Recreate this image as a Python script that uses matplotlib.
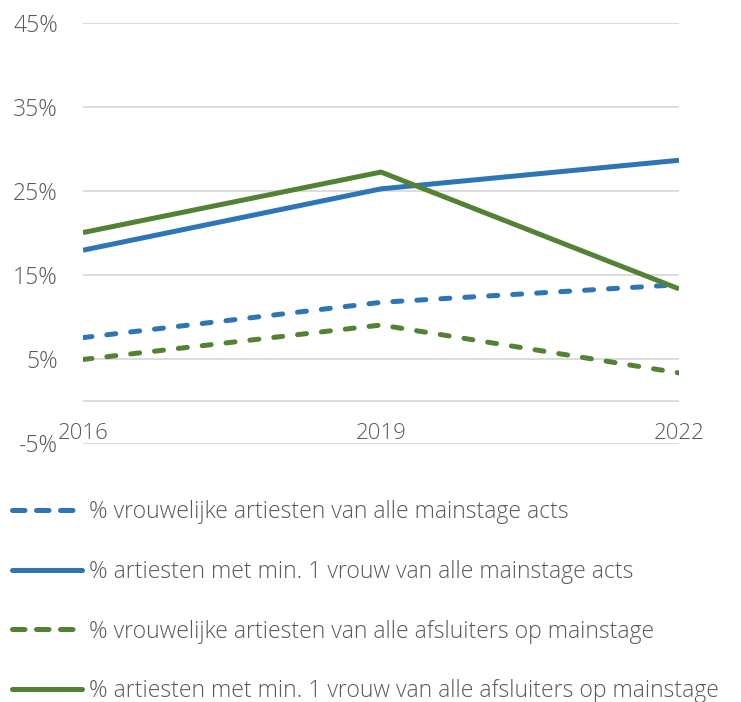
import matplotlib
matplotlib.use("Agg")
import matplotlib.pyplot as plt
from matplotlib.lines import Line2D

years = [2016, 2019, 2022]
pct_female_all_acts = [7.6, 11.8, 13.9]
pct_min1_all_acts = [18.0, 25.3, 28.7]
pct_female_closers = [5.0, 9.1, 3.4]
pct_min1_closers = [20.1, 27.3, 13.4]
yticks = [-5, 5, 15, 25, 35, 45]
labels = [
    "% vrouwelijke artiesten van alle mainstage acts",
    "% artiesten met min. 1 vrouw van alle mainstage acts",
    "% vrouwelijke artiesten van alle afsluiters op mainstage",
    "% artiesten met min. 1 vrouw van alle afsluiters op mainstage",
]

BLUE = "#2E75B6"
GREEN = "#548235"
GREY = "#595959"
plt.rcParams['font.family'] = ['Open Sans', 'DejaVu Sans']
plt.rcParams['font.weight'] = 'light'

fig = plt.figure(figsize=(7.41, 7.02), dpi=100)
W, H = 741, 702
ax = fig.add_axes([83 / W, 1 - 443.5 / H, (679 - 83) / W, (443.5 - 23.3) / H])

lw = 3.6
dash = (1.8, 3.0)
ax.plot(years, pct_female_all_acts, color=BLUE, lw=lw, dashes=dash,
        dash_capstyle='round')
ax.plot(years, pct_min1_all_acts, color=BLUE, lw=lw, solid_capstyle='butt')
ax.plot(years, pct_female_closers, color=GREEN, lw=lw, dashes=dash,
        dash_capstyle='round')
ax.plot(years, pct_min1_closers, color=GREEN, lw=lw, solid_capstyle='butt')

ax.set_xlim(2016, 2022)
ax.set_ylim(-5, 45)
ax.set_yticks(yticks)
ax.set_yticklabels([f"{v}%" for v in yticks])
ax.set_xticks(years)
ax.set_xticklabels([str(y) for y in years])
for v in yticks:
    ax.axhline(v, color="#D9D9D9", lw=1.3, zorder=0)
ax.axhline(0, color="#D9D9D9", lw=1.3, zorder=0)
for s in ax.spines.values():
    s.set_visible(False)
ax.tick_params(axis='y', length=0, pad=18, labelsize=16.5, labelcolor=GREY)
ax.tick_params(axis='x', length=0, pad=-15, labelsize=16, labelcolor=GREY)

ldash = (2.5, 2.3)
handles = [
    Line2D([], [], color=BLUE, lw=lw, dashes=ldash, dash_capstyle='round'),
    Line2D([], [], color=BLUE, lw=lw, solid_capstyle='round'),
    Line2D([], [], color=GREEN, lw=lw, dashes=ldash, dash_capstyle='round'),
    Line2D([], [], color=GREEN, lw=lw, solid_capstyle='round'),
]
leg = fig.legend(handles=handles, labels=labels, loc='upper left',
                 bbox_to_anchor=(12 / W, 1 - 500.5 / H), frameon=False,
                 fontsize=16.6, handlelength=3.05, handletextpad=0.3,
                 labelspacing=1.54, borderaxespad=0, borderpad=0)
for t in leg.get_texts():
    t.set_color(GREY)

fig.savefig("out.png", dpi=100)
